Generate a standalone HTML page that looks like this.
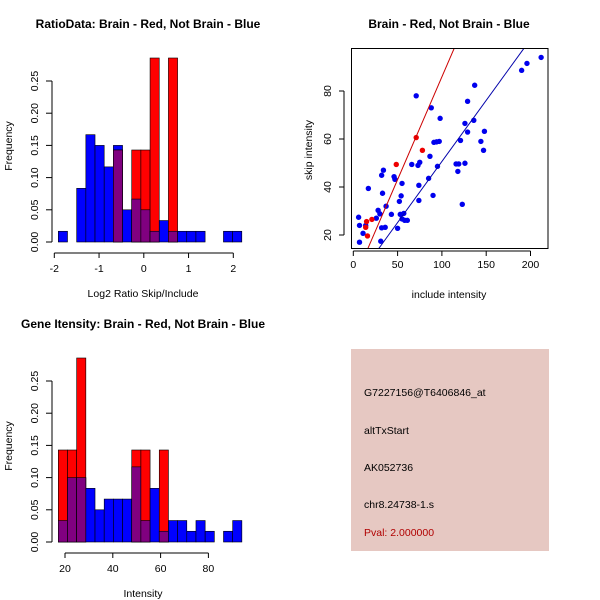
<!DOCTYPE html>
<html><head><meta charset="utf-8"><style>
html,body{margin:0;padding:0;background:#fff;}
svg{display:block;font-family:"Liberation Sans",Arial,sans-serif;}
</style></head><body>
<svg id="c" width="600" height="600" xmlns="http://www.w3.org/2000/svg"></svg>
<script>
// Ratio histogram data (proportions)
const ratioBlue=[1,0,5,10,9,7,9,3,4,3,1,2,1,1,1,1,0,0,1,1].map(v=>v/60);
const ratioRed=[0,0,0,0,0,0,1,0,1,1,2,0,2,0,0,0,0,0,0,0].map(v=>v/7);
const ratioXTicks=[-2,-1,0,1,2];
// Intensity histogram data
const intBlue=[2,6,6,5,3,4,4,4,7,2,5,1,2,2,1,2,1,0,1,2].map(v=>v/60);
const intRed=[1,1,2,0,0,0,0,0,1,1,0,1,0,0,0,0,0,0,0,0].map(v=>v/7);
const intXTicks=[20,40,60,80];
const freqTicks=[0,0.05,0.10,0.15,0.20,0.25];
const freqLabels=["0.00","0.05","0.10","0.15","0.20","0.25"];
// Scatter data
const blueX=[212,196,190,137,71,129,88,98,126,136,148,129,121,91,94,97,144,147,86.5,66,73,75,95,116,119,126,118,34,32,46,47,85,55,17,74,33,90,54,52,74,123,37,28,30,43,53,57,26,55,58,61,6,7,14,32,36,50,11,31,7];
const blueY=[94,91.5,88.6,82.4,78,75.7,73,68.6,66.5,67.8,63.2,62.9,59.4,58.6,58.8,59,59,55.3,52.8,49.4,49,50.3,48.6,49.6,49.6,49.9,46.5,47,44.9,44.3,43.2,43.6,41.5,39.4,40.7,37.4,36.5,36.3,34,34.4,32.8,32,30.3,28.8,28.6,28.6,29,27,26.7,26.1,26.1,27.4,24,24,23,23.2,22.8,20.7,17.4,17];
const redX=[71,78,48.5,21,15,14,16];
const redY=[60.6,55.3,49.4,26.5,25.6,23.2,19.6];
const blueFit=[-0.26,0.509];
const redFit=[0.3,0.856];
const scXTicks=[0,50,100,150,200];
const scYTicks=[20,40,60,80];

const NS="http://www.w3.org/2000/svg";
const svg=document.getElementById('c');
function mk(t,a,p){const e=document.createElementNS(NS,t);for(const k in a)e.setAttribute(k,a[k]);(p||svg).appendChild(e);return e;}
function txt(x,y,s,a,p){const e=mk('text',Object.assign({x:x,y:y},a||{}),p);e.textContent=s;return e;}
const FS=10.5, TFS=12;

function hist(name,oy,blue,red,x0,bw,xs,xTicks,xlab,title,titleX){
  const g=mk('g',{});
  
  
  const base=oy+242, py=v=>base-v*644;
  const px=v=>xs.a+(v-xs.v)*xs.k;
  txt(titleX,oy+28,title,{'font-size':TFS,'font-weight':'bold','text-anchor':'middle'},g);
  for(let i=0;i<blue.length;i++){
    const xa=px(x0+i*bw),xb=px(x0+(i+1)*bw);
    const b=blue[i],r=red[i],m=Math.min(b,r);
    if(b>0){const e=mk('rect',{x:xa,y:py(b),width:xb-xa,height:base-py(b),fill:'#0000ff',stroke:'#000','stroke-width':0.6},g);
      }
    if(r>0){const e=mk('rect',{x:xa,y:py(r),width:xb-xa,height:base-py(r),fill:'#ff0000',stroke:'#000','stroke-width':0.6},g);
      }
    if(m>0){const e=mk('rect',{x:xa,y:py(m),width:xb-xa,height:base-py(m),fill:'#800080',stroke:'#000','stroke-width':0.6},g);
      }
  }
  mk('line',{x1:52,x2:52,y1:py(0),y2:py(0.25),stroke:'#000'},g);
  freqTicks.forEach((t,i)=>{mk('line',{x1:46,x2:52,y1:py(t),y2:py(t),stroke:'#000'},g);
    const e=txt(38,py(t),freqLabels[i],{'font-size':FS,'text-anchor':'middle',transform:`rotate(-90 38 ${py(t)})`},g);
    });
  const yl=txt(12,oy+146,'Frequency',{'font-size':FS,'text-anchor':'middle',transform:`rotate(-90 12 ${oy+146})`},g);
  
  const ay=oy+253;
  mk('line',{x1:px(xTicks[0]),x2:px(xTicks[xTicks.length-1]),y1:ay,y2:ay,stroke:'#000'},g);
  xTicks.forEach(t=>{mk('line',{x1:px(t),x2:px(t),y1:ay,y2:ay+5,stroke:'#000'},g);
    const e=txt(px(t),ay+19,String(t),{'font-size':FS,'text-anchor':'middle'},g);
    });
  const xl=txt(143,oy+297,xlab,{'font-size':FS,'text-anchor':'middle'},g);
  
}
hist('ratio-histogram',0,ratioBlue,ratioRed,-1.91,0.205,{a:54.3,v:-2,k:44.75},ratioXTicks,'Log2 Ratio Skip/Include','RatioData: Brain - Red, Not Brain - Blue',148);
hist('intensity-histogram',300,intBlue,intRed,17.2,3.84,{a:65,v:20,k:2.39},intXTicks,'Intensity','Gene Itensity: Brain - Red, Not Brain - Blue',143);

const sg=mk('g',{});


const sx=v=>353.3+v*0.886, sy=v=>235-(v-20)*2.4;
txt(449,28,'Brain - Red, Not Brain - Blue',{'font-size':TFS,'font-weight':'bold','text-anchor':'middle'},sg);
const clip=mk('clipPath',{id:'sc'},sg);mk('rect',{x:351.5,y:48.5,width:196.5,height:200},clip);
const pg=mk('g',{'clip-path':'url(#sc)'},sg);
blueX.forEach((x,i)=>{const e=mk('circle',{cx:sx(x),cy:sy(blueY[i]),r:2.7,fill:'#0000ee'},pg);
  });
redX.forEach((x,i)=>{const e=mk('circle',{cx:sx(x),cy:sy(redY[i]),r:2.7,fill:'#ee0000'},pg);
  });
[[blueFit,'#0000aa','fit-line-blue'],[redFit,'#cc0000','fit-line-red']].forEach(([f,c,n])=>{
  const e=mk('line',{x1:sx(0),y1:sy(f[0]),x2:sx(230),y2:sy(f[0]+f[1]*230),stroke:c,'stroke-width':1},pg);
  });
mk('rect',{x:351.5,y:48.5,width:196.5,height:200,fill:'none',stroke:'#000'},sg);
mk('line',{x1:sx(0),x2:sx(200),y1:251,y2:251,stroke:'#000'},sg);
scXTicks.forEach(t=>{mk('line',{x1:sx(t),x2:sx(t),y1:251,y2:256,stroke:'#000'},sg);
  const e=txt(sx(t),268,String(t),{'font-size':FS,'text-anchor':'middle'},sg);});
mk('line',{x1:344,x2:344,y1:sy(20),y2:sy(80),stroke:'#000'},sg);
scYTicks.forEach(t=>{mk('line',{x1:339,x2:344,y1:sy(t),y2:sy(t),stroke:'#000'},sg);
  const e=txt(331,sy(t),String(t),{'font-size':FS,'text-anchor':'middle',transform:`rotate(-90 331 ${sy(t)})`},sg);});
txt(449,298,'include intensity',{'font-size':FS,'text-anchor':'middle'},sg);
txt(312,150,'skip intensity',{'font-size':FS,'text-anchor':'middle',transform:'rotate(-90 312 150)'},sg);
</script>
<svg width="600" height="600" style="position:absolute;left:0;top:0">
<rect x="351" y="349" width="198" height="202" fill="#e6c8c2"/>
<g font-family="Liberation Sans, Arial, sans-serif" font-size="10.5">
<text x="364" y="396">G7227156@T6406846_at</text>
<text x="364" y="434">altTxStart</text>
<text x="364" y="471">AK052736</text>
<text x="364" y="508">chr8.24738-1.s</text>
<text x="364" y="536" fill="#b00000">Pval: 2.000000</text>
</g></svg>
</body></html>
